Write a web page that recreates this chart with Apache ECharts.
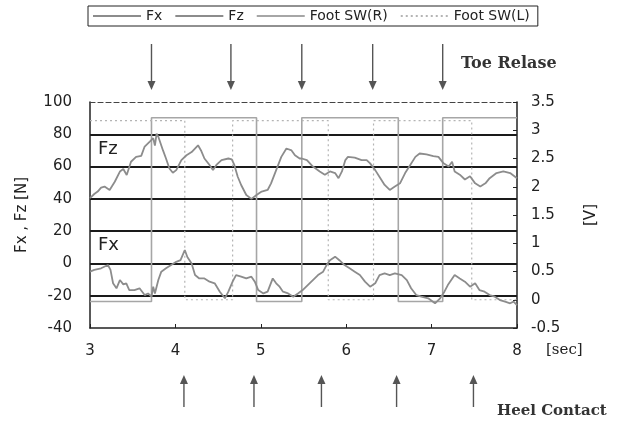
<!DOCTYPE html>
<html>
<head>
<meta charset="utf-8">
<script src="https://cdn.jsdelivr.net/npm/echarts@6/dist/echarts.min.js"></script>
<style>
html,body{margin:0;padding:0;background:#fff;}
#chart{width:624px;height:426px;}
</style>
</head>
<body>
<div id="chart"></div>
<script>
// ---- data ----
const fzTime = [3.00,3.05,3.09,3.13,3.17,3.23,3.29,3.35,3.39,3.43,3.48,3.54,3.60,3.64,3.70,3.74,3.76,3.78,3.80,3.855,3.89,3.93,3.97,4.01,4.07,4.13,4.19,4.265,4.30,4.34,4.40,4.44,4.48,4.54,4.62,4.66,4.69,4.73,4.77,4.83,4.89,4.95,5.01,5.08,5.12,5.18,5.24,5.30,5.36,5.40,5.455,5.48,5.54,5.61,5.69,5.75,5.81,5.87,5.91,5.95,5.99,6.02,6.10,6.18,6.24,6.28,6.34,6.40,6.45,6.51,6.57,6.63,6.69,6.75,6.81,6.86,6.94,7.02,7.08,7.14,7.20,7.24,7.27,7.33,7.39,7.45,7.51,7.57,7.63,7.68,7.76,7.84,7.92,8.00];
const fzValue = [40.5,43,44.5,47,47.6,45.5,50.6,56.9,58.5,54.8,63,66,66.6,72.4,75.5,77.6,73,80.4,78.5,70,65,58.8,56.2,57.8,64,67,69,73.2,70,65,61,57.8,61,64,65,64.5,61,53.7,48.6,42.4,40,42.4,44.5,45.5,49.6,57.8,66,71.2,70,67,65,65,64,60,57,55,57,56,52.8,57,64,66,65.5,64,64,62,57.8,52.8,48.6,45.5,47.6,49.6,56,61,66,68.1,67.5,66.5,66,62,60,63,57,55,52,54,49.6,47.6,49.6,52.8,56,57,56,52.8];

const fxTime = [3.00,3.05,3.13,3.21,3.24,3.27,3.31,3.35,3.39,3.425,3.46,3.52,3.58,3.64,3.68,3.72,3.74,3.76,3.80,3.835,3.89,3.95,4.01,4.06,4.11,4.14,4.19,4.23,4.28,4.34,4.40,4.46,4.52,4.58,4.62,4.67,4.71,4.77,4.83,4.89,4.93,4.97,5.03,5.08,5.14,5.18,5.22,5.26,5.32,5.38,5.435,5.49,5.55,5.61,5.67,5.73,5.77,5.81,5.87,5.92,5.98,6.04,6.10,6.16,6.22,6.28,6.34,6.39,6.45,6.51,6.57,6.65,6.71,6.76,6.82,6.88,6.96,7.04,7.10,7.15,7.19,7.23,7.27,7.33,7.39,7.45,7.51,7.56,7.62,7.68,7.74,7.80,7.86,7.92,7.96,8.00];
const fxValue = [-5.1,-4,-3,-1,-4,-12.3,-15.4,-10.3,-13,-12.3,-16.5,-16.5,-15.4,-19.6,-18.6,-20.6,-14.4,-18.6,-10.3,-5.1,-3,-1,1,2,8.3,4,0,-7.2,-9.3,-9.3,-11.3,-12.3,-17.5,-21.6,-17.5,-11.3,-7.2,-8.2,-9.3,-8.2,-11.3,-16.5,-18.6,-17.5,-9.3,-12.3,-14.4,-17.5,-18.6,-20.6,-18.6,-16.5,-13.4,-10.3,-7.2,-5.1,-1,2,4.2,2,-1,-3,-5.1,-7.2,-11.3,-14.4,-12.3,-7.2,-6.2,-7.2,-6.2,-7.2,-10.3,-15.4,-19.6,-20.6,-21.6,-24.7,-21.6,-17.5,-13.4,-10.3,-7.2,-9.3,-11.3,-14.4,-12.3,-16.5,-17.5,-19.6,-20.6,-22.7,-23.7,-24.7,-23.7,-25.8];

// foot switch square waves: switching times and level in each interval [V]
const swRTimes  = [3, 3.72, 4.95, 5.48, 6.61, 7.13, 8];
const swRLevels = [-0.03, 3.22, -0.03, 3.22, -0.03, 3.22];
const swLTimes  = [3, 4.11, 4.67, 5.79, 6.32, 7.47, 8];
const swLLevels = [3.17, 0.0, 3.17, 0.0, 3.17, 0.0];

const toeRelease  = [3.72, 4.65, 5.48, 6.31, 7.13];
const heelContact = [4.10, 4.92, 5.71, 6.59, 7.49];

const xTicks = [3, 4, 5, 6, 7, 8];

// ---- build series data ----
const zip = (a, b) => a.map((t, i) => [t, b[i]]);
function squareWave(times, levels) {
  const out = [];
  for (let i = 0; i < levels.length; i++) {
    out.push([times[i], levels[i]]);
    out.push([times[i + 1], levels[i]]);
  }
  return out;
}

const FONT = 'DejaVu Sans';
const chart = echarts.init(document.getElementById('chart'), null, {renderer: 'canvas'});

function arrowRenderer(dir) {
  return function (params, api) {
    const x = api.coord([api.value(0), 0])[0];
    const cs = params.coordSys;
    let tail, tip, s;
    if (dir === 'down') { tail = cs.y - 58; tip = cs.y - 12; s = -1; }
    else { tail = cs.y + cs.height + 79; tip = cs.y + cs.height + 47; s = 1; }
    return {
      type: 'group',
      children: [
        {type: 'line', shape: {x1: x, y1: tail, x2: x, y2: tip + s * 6},
         style: {stroke: '#555', lineWidth: 1.4}},
        {type: 'polygon', shape: {points: [[x - 4, tip + s * 9], [x + 4, tip + s * 9], [x, tip]]},
         style: {fill: '#555'}}
      ]
    };
  };
}

const option = {
  backgroundColor: '#fff',
  animation: false,
  textStyle: {fontFamily: FONT},
  legend: {
    data: ['Fx', 'Fz', 'Foot SW(R)', 'Foot SW(L)'],
    left: 88, top: 6,
    itemWidth: 48, itemHeight: 12, itemGap: 12,
    padding: [3, 8, 3, 4],
    borderColor: '#222', borderWidth: 1,
    itemStyle: {opacity: 0, color: 'rgba(0,0,0,0)', borderWidth: 0},
    textStyle: {fontFamily: FONT, fontSize: 14, color: '#222'}
  },
  grid: {left: 90, right: 107, top: 102, bottom: 98},
  xAxis: [{
    type: 'value', min: 3, max: 8, interval: 1, position: 'bottom',
    axisLine: {onZero: false, lineStyle: {color: '#222', width: 1.5}},
    axisTick: {inside: true, length: 4, lineStyle: {color: '#222'}},
    axisLabel: {fontFamily: FONT, fontSize: 15, color: '#222', margin: 16,
                formatter: v => xTicks.includes(v) ? String(v) : ''},
    splitLine: {show: false}
  }, {
    type: 'value', min: 3, max: 8, position: 'top',
    axisLine: {show: true, onZero: false, lineStyle: {color: '#444', width: 1.2, type: [5, 3]}},
    axisTick: {show: false}, axisLabel: {show: false}, splitLine: {show: false}
  }],
  yAxis: [{
    type: 'value', min: -40, max: 100, interval: 20,
    name: 'Fx , Fz [N]', nameLocation: 'middle', nameGap: 60, nameRotate: 90,
    nameTextStyle: {fontFamily: FONT, fontSize: 15, color: '#222'},
    axisLine: {show: true, onZero: false, lineStyle: {color: '#222', width: 1.5}},
    axisTick: {show: false},
    axisLabel: {fontFamily: FONT, fontSize: 15, color: '#222', margin: 18},
    splitLine: {show: true, lineStyle: {width: 2,
      color: ['rgba(0,0,0,0)', '#1a1a1a', '#1a1a1a', '#1a1a1a', '#1a1a1a', '#1a1a1a', '#1a1a1a', 'rgba(0,0,0,0)']}}
  }, {
    type: 'value', min: -0.5, max: 3.5, interval: 0.5, position: 'right',
    name: '[V]', nameLocation: 'middle', nameGap: 67, nameRotate: 90,
    nameTextStyle: {fontFamily: FONT, fontSize: 15, color: '#222'},
    axisLine: {show: true, onZero: false, lineStyle: {color: '#222', width: 1.5}},
    axisTick: {show: true, inside: true, length: 4, lineStyle: {color: '#222'}},
    axisLabel: {fontFamily: FONT, fontSize: 15, color: '#222', margin: 14},
    splitLine: {show: false}
  }],
  series: [
    {name: 'Foot SW(R)', type: 'line', yAxisIndex: 1, data: squareWave(swRTimes, swRLevels),
     showSymbol: false, symbol: 'none', color: '#a6a6a6', lineStyle: {color: '#a6a6a6', width: 1.6}, z: 2},
    {name: 'Foot SW(L)', type: 'line', yAxisIndex: 1, data: squareWave(swLTimes, swLLevels),
     showSymbol: false, symbol: 'none', color: '#b4b4b4', lineStyle: {color: '#b4b4b4', width: 1.2, type: [2, 3]}, z: 2},
    {name: 'Fx', type: 'line', data: zip(fxTime, fxValue), showSymbol: false, symbol: 'none',
     color: '#8c8c8c', lineStyle: {color: '#8c8c8c', width: 1.8}, z: 3},
    {name: 'Fz', type: 'line', data: zip(fzTime, fzValue), showSymbol: false, symbol: 'none',
     color: '#8c8c8c', lineStyle: {color: '#8c8c8c', width: 1.8}, z: 3},
    {name: 'toe', type: 'custom', clip: false, data: toeRelease.map(t => [t]),
     encode: {x: 0}, renderItem: arrowRenderer('down'), silent: true, z: 5},
    {name: 'heel', type: 'custom', clip: false, data: heelContact.map(t => [t]),
     encode: {x: 0}, renderItem: arrowRenderer('up'), silent: true, z: 5}
  ],
  graphic: [
    {type: 'text', left: 98, top: 140, style: {text: 'Fz', font: '18px "DejaVu Sans"', fill: '#222'}},
    {type: 'text', left: 98, top: 236, style: {text: 'Fx', font: '18px "DejaVu Sans"', fill: '#222'}},
    {type: 'text', left: 546, top: 343, style: {text: '[sec]', font: '15px "DejaVu Serif"', fill: '#222'}},
    {type: 'text', left: 461, top: 56, style: {text: 'Toe Relase', font: 'bold 16px "DejaVu Serif"', fill: '#333'}},
    {type: 'text', left: 497, top: 404, style: {text: 'Heel Contact', font: 'bold 15px "DejaVu Serif"', fill: '#333'}}
  ]
};
chart.setOption(option);
</script>
</body>
</html>
